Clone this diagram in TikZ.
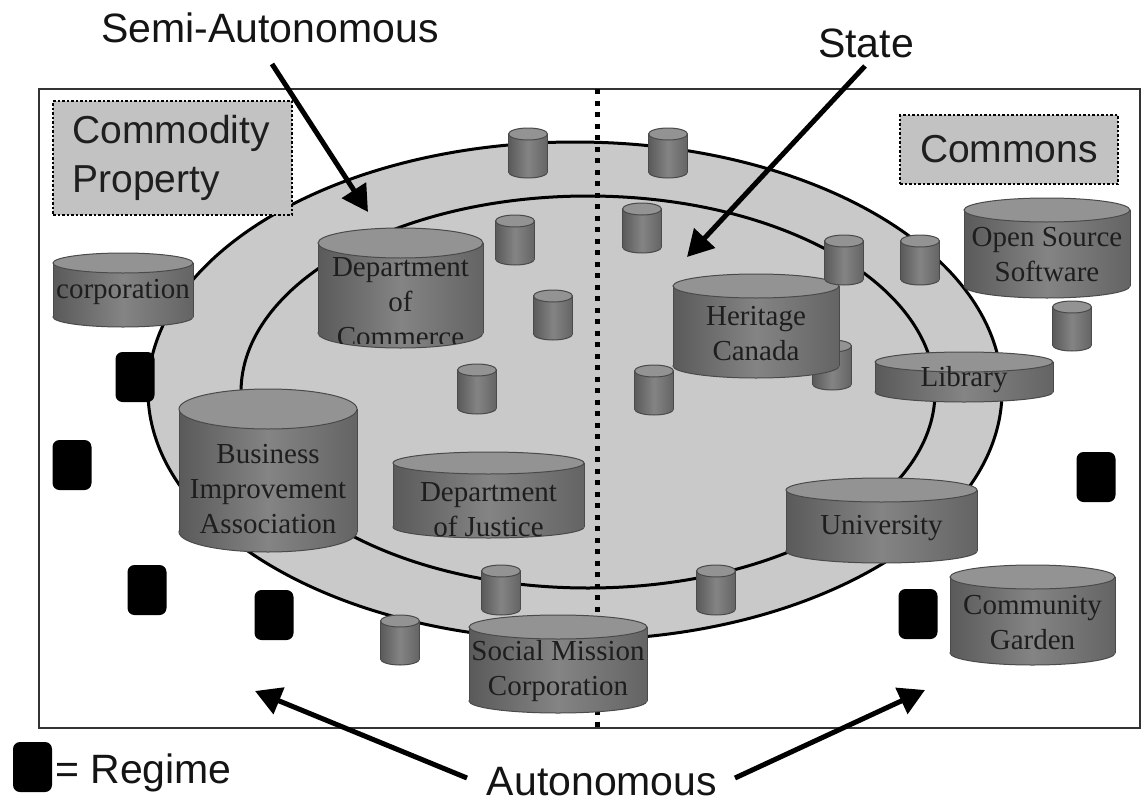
\documentclass[tikz,border=0pt]{standalone}
\usepackage{fontspec}
\setmainfont{Liberation Serif}
\newfontfamily\labelfont{Liberation Sans}
\usetikzlibrary{arrows.meta}
\definecolor{ringgray}{HTML}{C9C9C9}
\definecolor{boxgray}{HTML}{C2C2C2}
\definecolor{drumL}{HTML}{5A5A5A}
\definecolor{drumM}{HTML}{848484}
\definecolor{drumR}{HTML}{646464}
\definecolor{drumTop}{HTML}{939393}
\definecolor{drumEdge}{HTML}{4A4A4A}
\definecolor{drumText}{HTML}{1E1E1E}
% #1 centre x, #2 top y, #3 width, #4 height, #5 radius of the ends
\newcommand\graydrum[5]{%
  \pgfmathsetmacro\dl{#1-#3/2}\pgfmathsetmacro\dr{#1+#3/2}%
  \pgfmathsetmacro\dt{#2+#5}\pgfmathsetmacro\db{#2+#4-#5}%
  \pgfmathsetmacro\drx{#3/2}%
  \shadedraw[left color=drumL,right color=drumR,middle color=drumM,draw=drumEdge,line width=1pt] (#1,\db) ellipse [x radius=\drx pt,y radius=#5pt];
  \shade[left color=drumL,right color=drumR,middle color=drumM] (\dl,\dt) rectangle (\dr,\db);
  \draw[drumEdge,line width=1pt] (\dl,\dt) -- (\dl,\db) (\dr,\dt) -- (\dr,\db);
  \filldraw[fill=drumTop,draw=drumEdge,line width=1pt] (#1,\dt) ellipse [x radius=\drx pt,y radius=#5pt];
}
\newcommand\regimedrum[2]{%
  \fill[regime] ({#1-19.5},{#2-25}) rectangle ({#1+19.5},{#2+25});
}
\begin{document}
\begin{tikzpicture}[x=1pt,y=-1pt,
  biglabel/.style={font=\labelfont\fontsize{41}{46}\selectfont, inner sep=0pt, text=black!92},
  dotbox/.style={draw=black, fill=boxgray, line width=2.5pt, dash pattern=on 2.5pt off 2pt, inner sep=0pt, font=\labelfont\fontsize{39}{49}\selectfont, text=black!88},
  drumtext/.style={font=\fontsize{29}{35}\selectfont, text=drumText, align=center, inner sep=0pt},
  bigarrow/.style={line width=5pt, -{Triangle[length=26pt,width=28pt]}},
  regime/.style={fill=black, rounded corners=7pt},
  ring/.style={line width=3pt, draw=black},
  divider/.style={line width=5pt, dash pattern=on 5pt off 6.5pt}]

\useasboundingbox (0,0) rectangle (1146,803);

% frame
\draw[line width=1.5pt, draw=black!80] (39,89) rectangle (1140,728);

% rings
\filldraw[ring, fill=ringgray] (575,391) ellipse [x radius=427pt, y radius=249pt];
\draw[ring] (588,392) ellipse [x radius=347pt, y radius=196pt];

% divider
\coordinate (divTop) at (597,89);
\coordinate (divBot) at (597,728);
\draw[divider] (divTop) -- (divBot);

% label boxes
\node[dotbox, minimum width=239pt, minimum height=114pt, text width=200pt, align=left] (commodity) at (172.5,158) {Commodity\\Property};
\node[dotbox, minimum width=218pt, minimum height=69pt] (commons) at (1009,149.5) {Commons};

% small drums
\graydrum{528}{128}{39}{50}{6}
\graydrum{668}{128}{39}{50}{6}
\graydrum{515}{215}{39}{50}{6}
\graydrum{642}{203}{39}{50}{6}
\graydrum{553}{290}{39}{50}{6}
\graydrum{477}{364}{39}{50}{6}
\graydrum{654}{365}{39}{50}{6}
\graydrum{501}{565}{39}{50}{6}
\graydrum{716}{565}{39}{50}{6}
\graydrum{400}{615}{39}{50}{6}
\graydrum{920}{235}{39}{50}{6}
\graydrum{1072}{301}{39}{50}{6}
\graydrum{832}{340}{39}{50}{6}

% regimes
\regimedrum{135}{377}
\regimedrum{72}{465}
\regimedrum{147}{590}
\regimedrum{274}{615}
\regimedrum{1096}{477}
\regimedrum{918}{614}

% named drums
\graydrum{123}{253}{140}{74}{10}
\node[drumtext] (corp) at (123,292) {corporation};

\graydrum{400.5}{228}{165}{120}{15}
\begin{scope}
\clip (318,228) rectangle (483,343);
\node[drumtext] (commerce) at (400.5,302) {Department\\of\\Commerce};
\end{scope}

\graydrum{268}{389}{178}{163}{20}
\node[drumtext] (bia) at (268,489) {Business\\Improvement\\Association};

\graydrum{488.5}{452}{191}{86}{11}
\node[drumtext] (justice) at (488.5,509.5) {Department\\of Justice};

\graydrum{756}{274}{166}{104}{12}
\node[drumtext] (heritage) at (756,333.5) {Heritage\\Canada};
\graydrum{844}{235}{39}{50}{6}

\graydrum{1047}{198}{166}{100}{12}
\node[drumtext] (oss) at (1047,255) {Open Source\\Software};

\graydrum{964}{352}{178}{50}{10}
\node[drumtext] (library) at (964,380) {Library};

\graydrum{881.5}{478}{191}{85}{12}
\node[drumtext] (university) at (881.5,528) {University};

\graydrum{1032.5}{565}{165}{100}{12}
\node[drumtext] (garden) at (1032.5,622.5) {Community\\Garden};

\graydrum{558}{615}{178}{98}{12}
\node[drumtext] (social) at (558,671.5) {Social Mission\\Corporation};

% labels and arrows
\node[biglabel, anchor=base] (semi) at (270,42) {Semi-Autonomous};
\node[biglabel, anchor=base] (state) at (866,57) {State};
\node[biglabel, anchor=base] (auto) at (602,795) {Autonomous};

\coordinate (semiTail) at (272,64);
\coordinate (semiTip) at (368,212);
\coordinate (stateTail) at (865,66);
\coordinate (stateTip) at (687,257);
\coordinate (autoLTail) at (467,778);
\coordinate (autoLTip) at (255,691);
\coordinate (autoRTail) at (735,778);
\coordinate (autoRTip) at (925,690);
\draw[bigarrow] (semiTail) -- (semiTip);
\draw[bigarrow] (stateTail) -- (stateTip);
\draw[bigarrow] (autoLTail) -- (autoLTip);
\draw[bigarrow] (autoRTail) -- (autoRTip);

% legend
\fill[regime] (13,742) rectangle (52,792);
\node[biglabel, anchor=base west] (regimeText) at (55,783) {= Regime};
\end{tikzpicture}
\end{document}
